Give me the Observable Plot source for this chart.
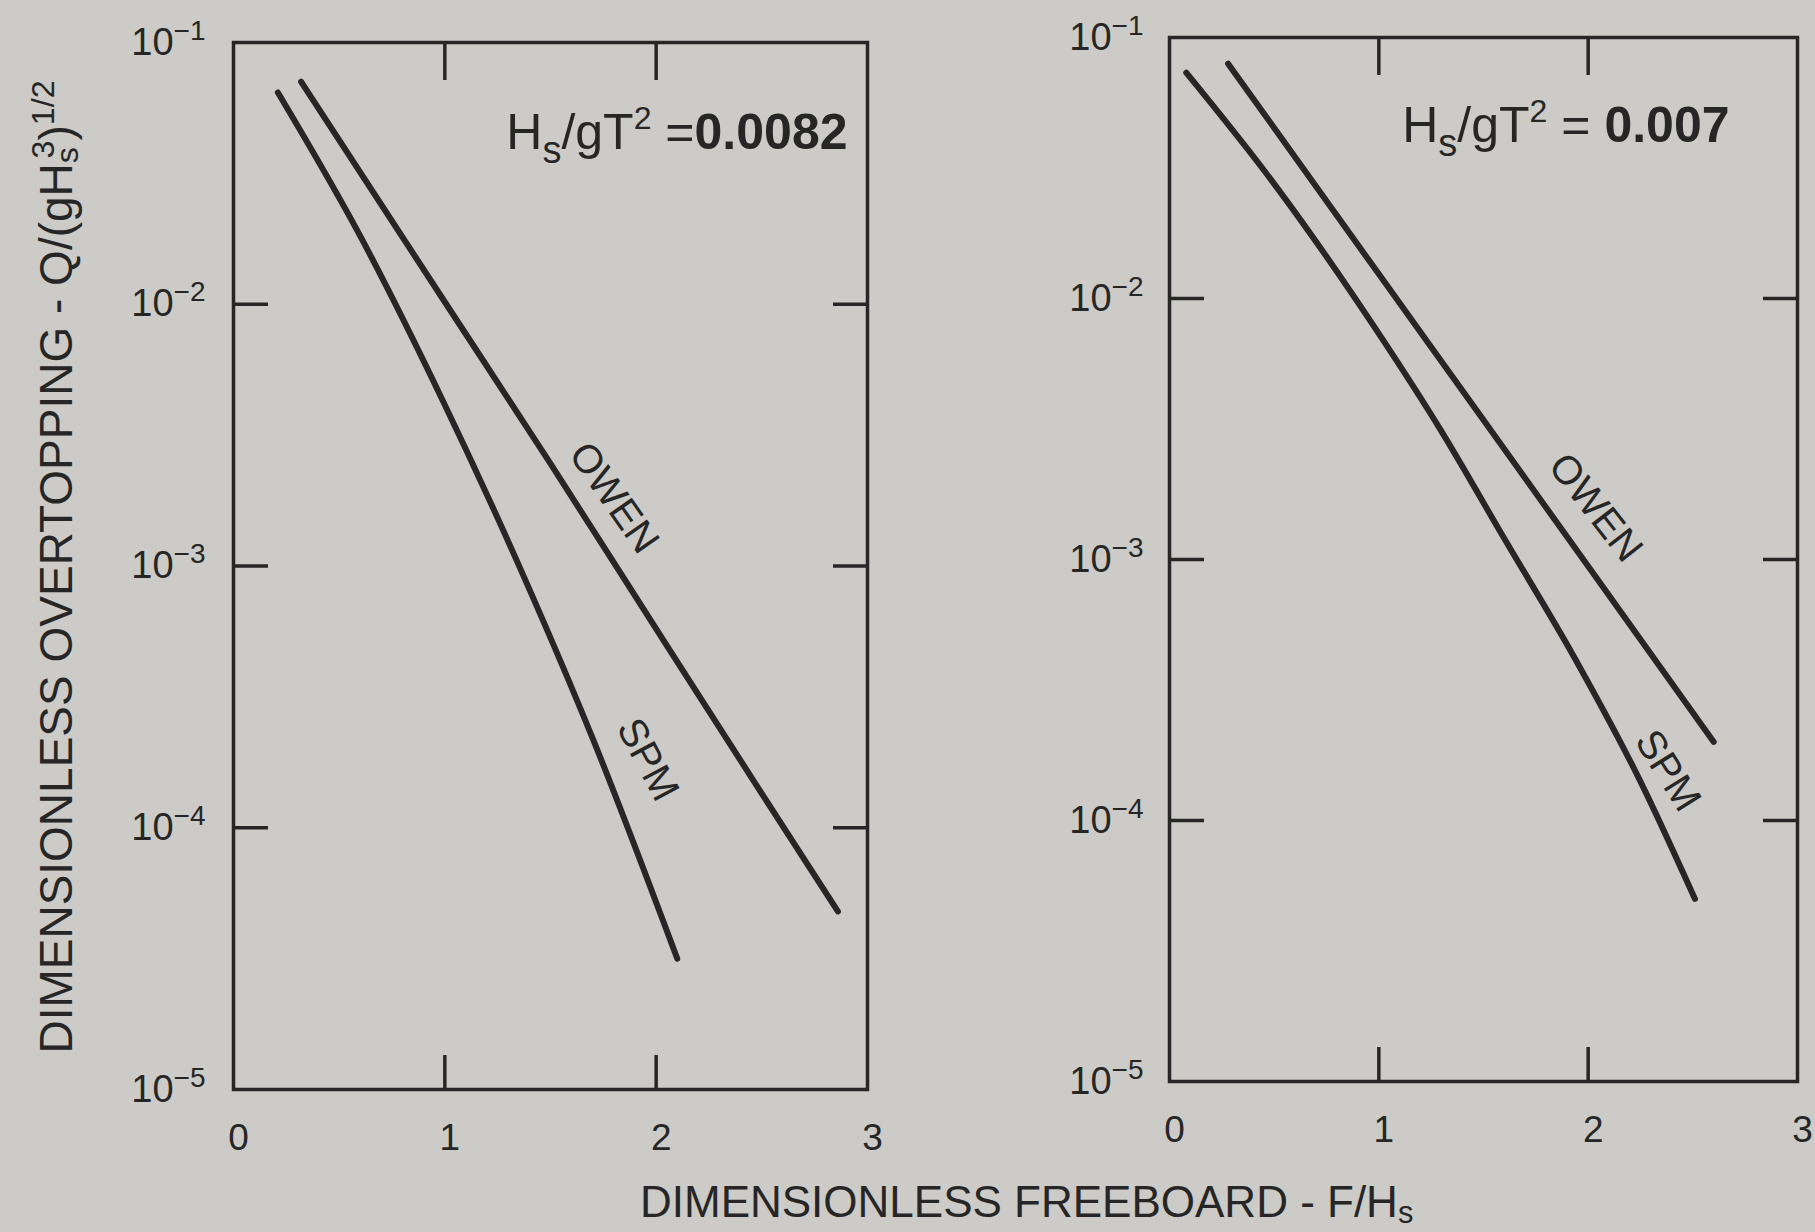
<!DOCTYPE html>
<html>
<head>
<meta charset="utf-8">
<script src="https://cdn.jsdelivr.net/npm/d3@7"></script>
<script src="https://cdn.jsdelivr.net/npm/@observablehq/plot@0.6"></script>
<style>
  html, body { margin: 0; padding: 0; background: #cdcbc7; }
  #wrap { position: relative; width: 1815px; height: 1232px; overflow: hidden;
          font-family: "Liberation Sans", Arial, Helvetica, sans-serif; color: #262626; background: #cdcbc7; }
  .panel { position: absolute; top: 0; }
  .xtitle { position: absolute; left: 640px; top: 1180px; font-size: 44px; line-height: 44px; white-space: nowrap; }
  .ytitle { position: absolute; left: 0; top: 0; width: 1100px; text-align: center; font-size: 46px; line-height: 46px;
            white-space: nowrap; transform-origin: 0 0; transform: translate(33px, 1117px) rotate(-90deg); }
  .sub { font-size: 0.7em; position: relative; top: 0.18em; line-height: 0; }
  .sup { font-size: 0.7em; position: relative; top: -0.55em; line-height: 0; }
</style>
</head>
<body>
<div id="wrap">
  <div id="left" class="panel" style="left:0px"></div>
  <div id="right" class="panel" style="left:900px"></div>
  <div class="ytitle">DIMENSIONLESS OVERTOPPING - Q/(gH<span class="sub">s</span><span class="sup" style="margin-left:-0.35em">3</span>)<span class="sup">1/2</span></div>
  <div class="xtitle">DIMENSIONLESS FREEBOARD - F/H<span class="sub">s</span></div>
</div>
<script>
// ---------- data ----------
const xTicks = [0, 1, 2, 3];
const innerXTicks = [1, 2];
const yTicks = [1e-1, 1e-2, 1e-3, 1e-4, 1e-5];
const innerYTicks = [1e-2, 1e-3, 1e-4];

// Left panel: Hs/gT^2 = 0.0082
const leftParam = "0.0082";
const leftOwenX = [0.32, 1.0, 1.5, 2.0, 2.5, 2.86];
const leftOwenQ = [0.0708, 0.0102, 0.00246, 0.000575, 0.000135, 0.0000479];
const leftSpmX  = [0.21, 0.60, 0.99, 1.39, 1.70, 2.10];
const leftSpmQ  = [0.0644, 0.0182, 0.00429, 0.000851, 0.000219, 0.0000316];
const leftLabelNames  = ["OWEN", "SPM"];
const leftLabelX      = [1.80, 1.96];
const leftLabelQ      = [0.00182, 0.000182];
const leftLabelAngle  = [55, 62];

// Right panel: Hs/gT^2 = 0.007
const rightParam = "0.007";
const rightOwenX = [0.28, 1.0, 1.5, 2.0, 2.6];
const rightOwenQ = [0.0794, 0.0124, 0.00342, 0.000942, 0.0002];
const rightSpmX  = [0.08, 0.5, 1.0, 1.3, 1.6, 1.93, 2.25, 2.51];
const rightSpmQ  = [0.0733, 0.0275, 0.00733, 0.00309, 0.0012, 0.000427, 0.000141, 0.0000501];
const rightLabelNames = ["OWEN", "SPM"];
const rightLabelX     = [2.035, 2.38];
const rightLabelQ     = [0.00158, 0.000155];
const rightLabelAngle = [52, 58];

// ---------- helpers ----------
const FONT = '"Liberation Sans", Arial, Helvetica, sans-serif';
const INK = "#262626";
const SVGNS = "http://www.w3.org/2000/svg";

function buildSeries(ox, oq, sx, sq) {
  return [
    ...ox.map((x, i) => ({name: "OWEN", x, q: oq[i]})),
    ...sx.map((x, i) => ({name: "SPM", x, q: sq[i]}))
  ];
}
function buildLabels(names, xs, qs, angles) {
  return names.map((name, i) => ({name, x: xs[i], q: qs[i], angle: angles[i]}));
}
function expLabel(d) { return "10−" + Math.round(-Math.log10(d)); }

function panel(cfg) {
  const svg = Plot.plot({
    width: cfg.width, height: 1232,
    marginLeft: cfg.ml, marginRight: cfg.mr, marginTop: cfg.mt, marginBottom: cfg.mb,
    style: {background: "transparent", color: INK, fontFamily: FONT, overflow: "visible"},
    x: {domain: [0, 3]},
    y: {type: "log", domain: [1e-5, 1e-1]},
    marks: [
      Plot.axisX(xTicks, {anchor: "bottom", tickSize: 0, tickPadding: 34, dx: 5, fontSize: 37, label: null, tickFormat: d => String(d)}),
      Plot.axisX(innerXTicks, {anchor: "bottom", tickSize: -34, tickFormat: () => "", label: null, strokeWidth: 3.5}),
      Plot.axisX(innerXTicks, {anchor: "top", tickSize: -37, tickFormat: () => "", label: null, strokeWidth: 3.5}),
      Plot.axisY(yTicks, {anchor: "left", tickSize: 0, tickPadding: cfg.ypad, fontSize: 38, label: null, tickFormat: expLabel}),
      Plot.axisY(innerYTicks, {anchor: "left", tickSize: -35, tickFormat: () => "", label: null, strokeWidth: 3.5}),
      Plot.axisY(innerYTicks, {anchor: "right", tickSize: -35, tickFormat: () => "", label: null, strokeWidth: 3.5}),
      Plot.frame({stroke: INK, strokeWidth: 3.5}),
      Plot.line(cfg.series, {x: "x", y: "q", z: "name", stroke: INK, strokeWidth: 6, curve: "monotone-x", strokeLinecap: "round"}),
      Plot.text(cfg.labels, {x: "x", y: "q", text: "name", rotate: "angle", fontSize: 40, fill: INK}),
      Plot.text([cfg.param], {frameAnchor: "top-right", text: d => d, dx: cfg.eqdx, dy: cfg.eqdy, lineAnchor: "bottom",
                              textAnchor: "end", fontSize: 50, fill: INK})
    ]
  });
  svg.querySelectorAll("text").forEach(t => {
    const txt = t.textContent;
    // superscript exponents on y tick labels
    const m = /^10(−\d)$/.exec(txt);
    if (m) {
      t.textContent = "10";
      const ts = document.createElementNS(SVGNS, "tspan");
      ts.setAttribute("dy", "-15");
      ts.setAttribute("font-size", "28");
      ts.textContent = m[1];
      t.appendChild(ts);
      return;
    }
    // rich text for the parameter annotation
    if (txt === cfg.param) {
      t.textContent = "";
      const parts = [
        {s: "H"},
        {s: "s", dy: 14, fs: 38},
        {s: "/gT", dy: -14},
        {s: "2", dy: -20, fs: 32},
        {s: cfg.eqSep, dy: 20},
        {s: txt, fw: "bold"}
      ];
      parts.forEach(p => {
        const ts = document.createElementNS(SVGNS, "tspan");
        if (p.dy) ts.setAttribute("dy", p.dy);
        if (p.fs) ts.setAttribute("font-size", p.fs);
        if (p.fw) ts.setAttribute("font-weight", p.fw);
        ts.textContent = p.s;
        t.appendChild(ts);
      });
    }
  });
  return svg;
}

document.getElementById("left").appendChild(panel({
  width: 900, ml: 233, mr: 33, mt: 42, mb: 1232 - 1089, ypad: 28,
  series: buildSeries(leftOwenX, leftOwenQ, leftSpmX, leftSpmQ),
  labels: buildLabels(leftLabelNames, leftLabelX, leftLabelQ, leftLabelAngle),
  param: leftParam, eqdx: -20, eqdy: 106, eqSep: " ="
}));
document.getElementById("right").appendChild(panel({
  width: 915, ml: 269, mr: 18, mt: 37, mb: 1232 - 1081, ypad: 26,
  series: buildSeries(rightOwenX, rightOwenQ, rightSpmX, rightSpmQ),
  labels: buildLabels(rightLabelNames, rightLabelX, rightLabelQ, rightLabelAngle),
  param: rightParam, eqdx: -68, eqdy: 104, eqSep: " = "
}));
</script>
</body>
</html>
